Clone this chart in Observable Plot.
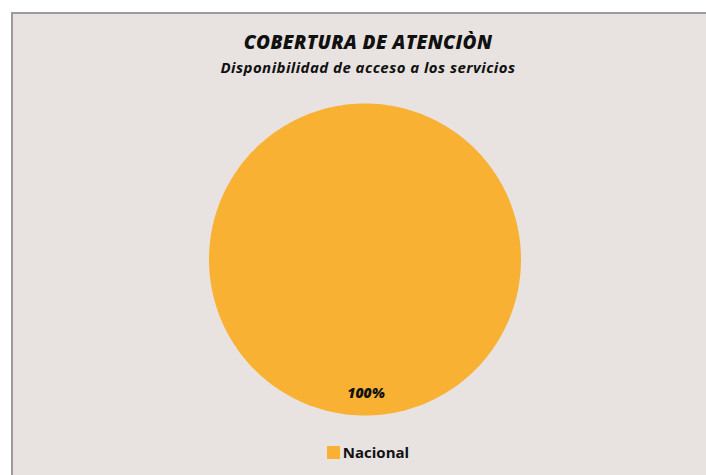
<!DOCTYPE html>
<html>
<head>
<meta charset="utf-8">
<script src="https://cdn.jsdelivr.net/npm/d3@7"></script>
<script src="https://cdn.jsdelivr.net/npm/@observablehq/plot@0.6"></script>
<style>
  html, body { margin: 0; padding: 0; background: #ffffff; width: 706px; height: 475px; overflow: hidden; }
  #frame { position: absolute; left: 11px; top: 12px; width: 700px; height: 470px; background: #E8E3E0;
           border-top: 2px solid #9c9c9c; border-left: 2px solid #9c9c9c; box-sizing: border-box; }
  .t { position: absolute; left: 15px; width: 706px; text-align: center; font-family: "Open Sans", sans-serif;
       font-style: italic; font-weight: 800; color: #111; white-space: nowrap; }
  #title { top: 29px; font-size: 19px; letter-spacing: 0.4px; }
  #subtitle { top: 57px; font-size: 15px; font-weight: 700; letter-spacing: 0.45px; }
  #chart { position: absolute; left: 0; top: 95px; }
  #legend { position: absolute; top: 442px; left: 15px; width: 706px; display: flex; justify-content: center;
            align-items: center; font-family: "Open Sans", sans-serif; font-weight: 700; font-size: 15px; color: #111; }
  #legend .sw { width: 13px; height: 13px; margin-right: 3px; }
</style>
</head>
<body>
<div id="frame"></div>
<div class="t" id="title">COBERTURA DE ATENCIÒN</div>
<div class="t" id="subtitle">Disponibilidad de acceso a los servicios</div>
<div id="chart"></div>
<div id="legend"></div>
<script>
const categories = ["Nacional"];
const values = [100];
const labels = ["100%"];
const colors = ["#F8B133"];

const pie = d3.pie().sort(null).value(d => d.value);
const slices = pie(categories.map((c, i) => ({category: c, value: values[i], label: labels[i]})));

// sample each slice outline in angle space
const outline = [];
slices.forEach(s => {
  const n = 240;
  const full = (s.endAngle - s.startAngle) >= 2 * Math.PI - 1e-9;
  if (!full) outline.push({category: s.data.category, x: 0, y: 0});
  for (let k = 0; k <= n; k++) {
    const a = s.startAngle + (s.endAngle - s.startAngle) * k / n;
    outline.push({category: s.data.category, x: Math.sin(a), y: Math.cos(a)});
  }
});
const labelPts = slices.map(s => {
  const a = (s.startAngle + s.endAngle) / 2;
  return {label: s.data.label, x: 0.86 * Math.sin(a), y: 0.86 * Math.cos(a)};
});

const chart = Plot.plot({
  width: 706,
  height: 330,
  marginLeft: 208.5,
  marginRight: 185.5,
  marginTop: 8,
  marginBottom: 10,
  x: {domain: [-1, 1], axis: null},
  y: {domain: [-1, 1], axis: null},
  color: {domain: categories, range: colors},
  style: {background: "transparent", overflow: "visible"},
  marks: [
    Plot.line(outline, {x: "x", y: "y", z: "category", fill: "category", stroke: "none", curve: "linear"}),
    Plot.text(labelPts, {x: "x", y: "y", text: "label", fontSize: 14, fontWeight: 800, fontStyle: "italic",
      fill: "#111", fontFamily: "'Open Sans', sans-serif", dx: 1})
  ]
});
document.getElementById("chart").appendChild(chart);

const leg = document.getElementById("legend");
categories.forEach((c, i) => {
  const sw = document.createElement("span");
  sw.className = "sw";
  sw.style.background = colors[i];
  const tx = document.createElement("span");
  tx.textContent = c;
  leg.appendChild(sw); leg.appendChild(tx);
});
</script>
</body>
</html>
